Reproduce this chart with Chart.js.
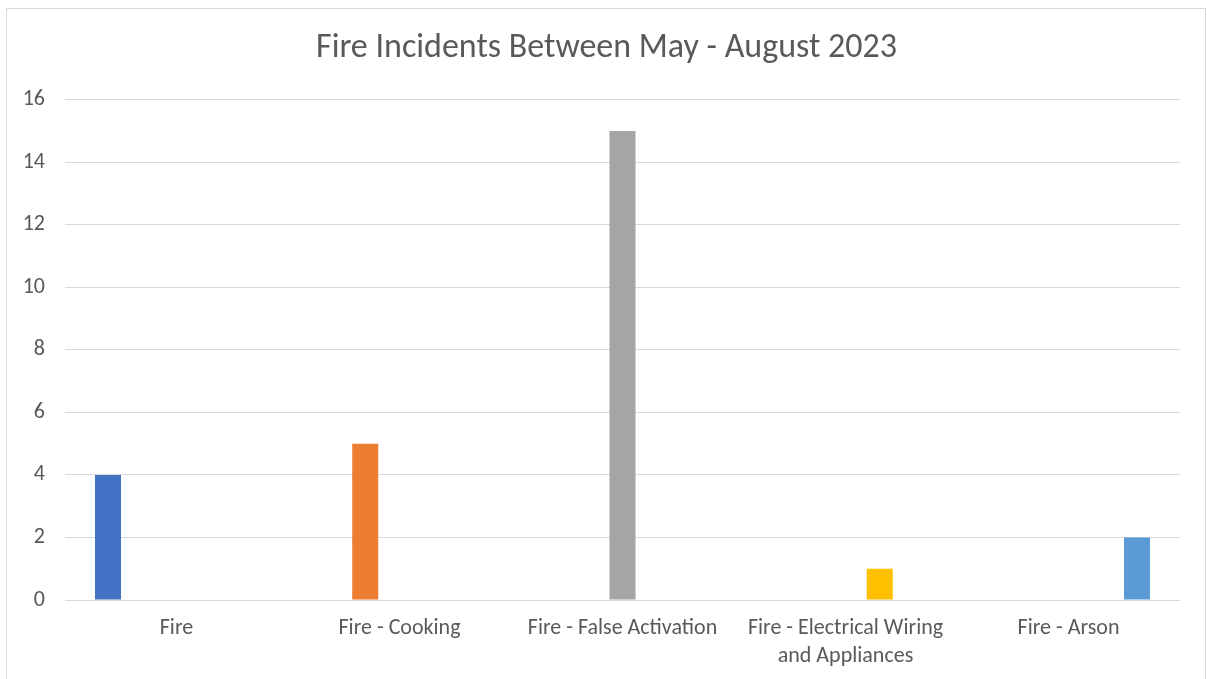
<!DOCTYPE html>
<html>
<head>
<meta charset="utf-8">
<script src="https://cdn.jsdelivr.net/npm/chart.js@4/dist/chart.umd.min.js"></script>
<style>
html,body{margin:0;padding:0;background:#fff;overflow:hidden;}
#frame{position:absolute;left:6px;top:8px;width:1200px;height:690px;border:1px solid #D9D9D9;box-sizing:border-box;}
#wrap{position:absolute;left:0;top:0;width:1207px;height:679px;}
</style>
</head>
<body>
<div id="frame"></div>
<div id="wrap"><canvas id="c" width="1207" height="679"></canvas></div>
<script>
const chartTitle = "Fire Incidents Between May - August 2023";
const categories = ["Fire", "Fire - Cooking", "Fire - False Activation", ["Fire - Electrical Wiring", "and Appliances"], "Fire - Arson"];
const seriesNames = ["Fire", "Fire - Cooking", "Fire - False Activation", "Fire - Electrical Wiring and Appliances", "Fire - Arson"];
const fireValues = [4, null, null, null, null];
const cookingValues = [null, 5, null, null, null];
const falseActivationValues = [null, null, 15, null, null];
const electricalValues = [null, null, null, 1, null];
const arsonValues = [null, null, null, null, 2];
const seriesColors = ["#4472C4", "#ED7D31", "#A5A5A5", "#FFC000", "#5B9BD5"];
const yTicks = [0, 2, 4, 6, 8, 10, 12, 14, 16];

const allValues = [fireValues, cookingValues, falseActivationValues, electricalValues, arsonValues];
const font = "Carlito, Calibri, Lato, 'Liberation Sans', sans-serif";

new Chart(document.getElementById('c'), {
  type: 'bar',
  data: {
    labels: categories,
    datasets: allValues.map((vals, i) => ({
      label: seriesNames[i],
      data: vals,
      backgroundColor: seriesColors[i],
      borderWidth: 0,
      yAxisID: 'y',
      categoryPercentage: 0.768,
      barPercentage: 0.76
    }))
  },
  options: {
    responsive: false,
    animation: false,
    layout: { padding: { left: 6, right: 0, top: 0, bottom: 0 } },
    plugins: {
      legend: { display: false },
      tooltip: { enabled: false },
      title: {
        display: true,
        text: chartTitle,
        color: '#595959',
        font: { family: font, size: 34, weight: 'normal', lineHeight: 1.2 },
        padding: { top: 28, bottom: 31 }
      }
    },
    scales: {
      x: {
        grid: { display: false, drawTicks: false },
        border: { display: false },
        ticks: {
          color: '#595959',
          font: { family: font, size: 22, lineHeight: 1.27 },
          padding: 15,
          maxRotation: 0,
          autoSkip: false
        },
        afterFit: s => { s.height = 79; }
      },
      y: {
        position: 'left',
        min: 0,
        max: 16,
        afterBuildTicks: s => { s.ticks = yTicks.map(v => ({ value: v })); },
        grid: { color: '#D9D9D9', lineWidth: 1, drawTicks: false },
        border: { display: false },
        ticks: {
          color: '#595959',
          font: { family: font, size: 22 },
          padding: 20
        },
        afterFit: s => { s.width = 59; }
      },
      yRightSpace: {
        position: 'right',
        min: 0,
        max: 16,
        grid: { display: false, drawTicks: false },
        border: { display: false },
        ticks: { display: false },
        afterFit: s => { s.width = 27; }
      }
    }
  }
});
</script>
</body>
</html>
